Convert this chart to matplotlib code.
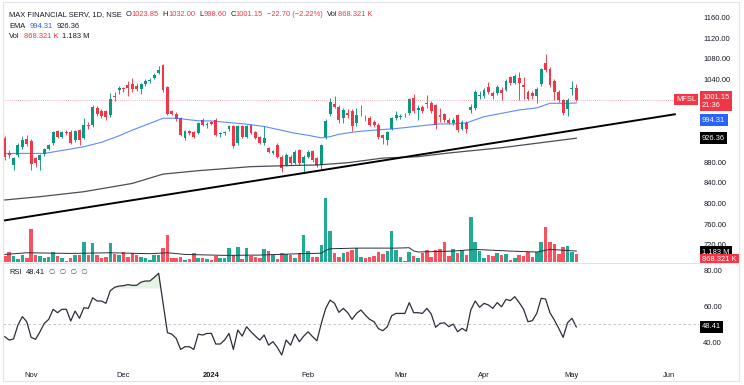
import matplotlib
matplotlib.use('Agg')
import matplotlib.pyplot as plt
from matplotlib.patches import Rectangle
from matplotlib.lines import Line2D
import numpy as np

plt.rcParams['font.family'] = ['Liberation Sans', 'DejaVu Sans']

# MFSL daily bars, 23 Oct 2023 .. 3 May 2024 (bar index 0..130)
opens = [927, 898, 875, 894, 910, 925, 921, 888, 884, 895,
         906, 917, 940, 929, 939, 939, 923, 942, 927, 952,
         951, 985, 979, 978, 971, 1008, 1020, 1023, 1030, 1032,
         1027, 1021, 1031, 1036, 1042, 1052, 1068, 1026, 978, 974,
         965, 927, 940, 938, 936, 962, 951, 957, 962, 934,
         936, 944, 949, 917, 949, 929, 951, 938, 929, 917,
         907, 898, 913, 891, 875, 891, 878, 903, 878, 891,
         902, 888, 875, 929, 974, 992, 987, 965, 975, 978,
         955, 978, 966, 966, 957, 952, 933, 923, 945, 965,
         968, 971, 975, 1005, 981, 987, 994, 994, 991, 971,
         973, 962, 955, 971, 945, 956, 981, 984, 1007, 1007,
         1025, 1014, 1013, 1020, 1020, 1044, 1034, 1042, 1029, 1016,
         1013, 1007, 1032, 1072, 1061, 1036, 1016, 1001, 982, 1021,
         1023.85]
highs = [930, 903, 890, 917, 930, 933, 925, 891, 896, 908,
         916, 941, 943, 941, 942, 942, 942, 945, 966, 958,
         990, 988, 983, 981, 1013, 1015, 1027, 1026, 1036, 1043,
         1034, 1034, 1040, 1043, 1052, 1065, 1069, 1028, 981, 977,
         968, 942, 943, 941, 958, 966, 958, 960, 965, 938,
         940, 951, 951, 952, 952, 952, 953, 940, 931, 949,
         910, 903, 918, 893, 897, 894, 903, 905, 893, 904,
         904, 890, 915, 963, 1005, 1007, 990, 985, 983, 982,
         985, 990, 972, 970, 962, 955, 935, 940, 968, 978,
         974, 975, 1005, 1012, 990, 990, 1010, 998, 993, 984,
         976, 965, 966, 974, 962, 960, 992, 1020, 1018, 1024,
         1035, 1018, 1030, 1025, 1040, 1047, 1050, 1055, 1045, 1020,
         1018, 1025, 1063, 1090, 1064, 1040, 1019, 1003, 1004, 1037,
         1032.00]
lows = [885, 888, 865, 890, 905, 912, 865, 871, 865, 892,
        903, 914, 926, 926, 933, 915, 919, 913, 924, 945,
        948, 970, 966, 961, 968, 998, 1012, 1016, 1007, 1016,
        1018, 1011, 1028, 1033, 1040, 1050, 1015, 971, 971, 960,
        930, 922, 932, 927, 934, 950, 947, 952, 930, 928,
        933, 941, 908, 914, 927, 927, 934, 925, 915, 914,
        897, 895, 888, 862, 872, 875, 876, 875, 859, 888,
        880, 870, 866, 925, 970, 985, 955, 955, 966, 940,
        950, 970, 960, 949, 948, 925, 916, 913, 942, 962,
        964, 968, 972, 975, 962, 975, 985, 975, 945, 958,
        958, 953, 952, 939, 943, 936, 975, 980, 1003, 1004,
        1012, 1002, 1010, 1000, 1018, 1030, 1031, 1000, 1003, 1000,
        1002, 995, 1028, 1055, 1026, 1000, 997, 972, 970, 1010,
        998.60]
closes = [891, 894, 888, 913, 923, 915, 876, 878, 893, 906,
          913, 938, 929, 938, 936, 917, 940, 923, 951, 949,
          987, 974, 970, 968, 1003, 1006, 1023, 1021, 1023, 1021,
          1021, 1031, 1037, 1039, 1049, 1058, 1020, 974, 974, 963,
          933, 940, 936, 929, 955, 952, 954, 954, 933, 936,
          939, 949, 912, 949, 929, 949, 936, 927, 918, 926,
          900, 901, 891, 868, 894, 878, 900, 878, 891, 900,
          884, 875, 913, 960, 997, 987, 962, 981, 971, 949,
          971, 979, 965, 952, 951, 929, 926, 938, 965, 971,
          969, 972, 1002, 978, 984, 979, 992, 979, 952, 968,
          962, 956, 962, 942, 958, 944, 987, 1016, 1010, 1020,
          1016, 1007, 1026, 1013, 1036, 1034, 1047, 1034, 1026, 1003,
          1007, 1021, 1061, 1058, 1029, 1016, 1000, 976, 1001, 1023.85,
          1001.15]
# volume in millions
volumes = [0.65, 1.1, 0.65, 0.3, 0.75, 0.4, 3.6, 0.75, 0.65, 0.4,
           0.55, 1.1, 0.65, 0.4, 0.15, 0.4, 0.75, 0.75, 2.2, 0.75,
           2.0, 0.75, 0.4, 0.57, 2.1, 0.82, 0.75, 1.1, 0.57, 0.93,
           0.75, 0.57, 0.4, 0.2, 0.75, 0.75, 1.47, 2.87, 0.47, 0.4,
           0.55, 0.22, 0.3, 0.93, 0.47, 0.47, 0.3, 0.2, 0.65, 0.4,
           0.4, 1.54, 0.75, 1.65, 0.3, 1.54, 0.65, 0.57, 0.4, 1.36,
           1.18, 0.75, 0.3, 1.0, 0.82, 0.75, 0.47, 1.0, 2.87, 1.18,
           0.57, 0.57, 1.8, 6.9, 3.3, 1.0, 0.55, 1.0, 1.08, 1.29,
           1.47, 0.57, 0.47, 0.57, 0.65, 1.08, 0.9, 1.18, 3.3, 1.25,
           0.57, 0.1, 1.1, 0.65, 0.47, 1.0, 1.29, 0.57, 1.29, 1.43,
           2.2, 0.65, 1.36, 1.0, 1.29, 0.72, 4.8, 2.2, 1.18, 0.47,
           0.72, 0.65, 1.0, 0.75, 0.82, 0.2, 0.47, 0.72, 0.65, 1.11,
           0.55, 1.11, 2.15, 3.8, 2.15, 1.97, 0.82, 1.65, 1.72, 1.11,
           0.868321]
rsi = [43.0, 41.1, 41.7, 49.5, 54.1, 51.3, 42.6, 41.5, 45.7, 50.4,
       52.6, 58.2, 56.3, 58.2, 58.2, 51.7, 57.2, 53.2, 59.1, 58.7,
       64.6, 62.8, 62.8, 61.5, 68.5, 70.4, 71.1, 71.3, 71.9, 71.5,
       71.5, 73.3, 73.9, 73.9, 75.9, 78.2, 61.5, 45.2, 44.4, 42.0,
       35.9, 37.4, 37.4, 35.9, 44.4, 43.9, 44.8, 44.8, 38.9, 38.9,
       41.1, 44.8, 35.9, 46.7, 43.3, 48.5, 45.7, 43.3, 41.1, 43.9,
       38.3, 40.2, 37.0, 32.8, 41.1, 38.3, 44.4, 40.2, 43.3, 45.7,
       43.0, 40.7, 50.4, 58.7, 63.3, 61.5, 56.5, 58.7, 56.3, 52.6,
       55.9, 57.8, 55.0, 52.6, 51.3, 47.4, 46.3, 48.5, 54.6, 55.9,
       55.9, 55.9, 61.9, 56.3, 56.3, 55.9, 58.7, 55.6, 48.2, 50.4,
       50.7, 48.5, 50.0, 45.7, 47.6, 46.1, 57.8, 62.8, 59.3, 61.5,
       60.6, 58.7, 61.9, 59.6, 63.7, 63.0, 65.2, 61.9, 58.2, 51.3,
       51.9, 55.9, 64.3, 63.9, 56.3, 52.2, 47.6, 42.6, 50.7, 53.2,
       48.41]

# indicator lines (bar index, value)
ema50_idx = [0, 9, 14, 18, 22, 26, 29, 33, 36, 39, 44, 47, 55, 59, 66, 69, 72,
             74, 76, 80, 84, 88, 91, 95, 99, 102, 105, 109, 113, 117, 121,
             124, 128, 130]
ema50_val = [897, 897, 904, 910, 918.5, 931, 942, 955, 965, 965, 960, 959.7,
             953.5, 949, 936, 932, 927, 929.4, 934, 939, 942, 944.3, 946.8,
             950.7, 954, 954, 956, 968, 974.4, 981, 985, 993.8, 993.8, 994.31]
ema200_idx = [0, 8, 18, 29, 36, 44, 56, 67, 71, 78, 86, 94, 101, 113, 130]
ema200_val = [807, 813.4, 823, 839, 857, 863.6, 871.4, 874, 874.6, 879, 888,
              890.7, 897.8, 908, 926.36]
volma_idx = [0, 5, 15, 24, 33, 37, 41, 50, 58, 67, 72, 73, 74, 80, 89, 92, 93,
             94, 102, 107, 115, 121, 124, 130]
volma_val = [0.82, 1.0, 0.93, 1.0, 0.9, 1.0, 0.82, 0.72, 0.75, 0.9, 0.95, 1.25,
             1.43, 1.5, 1.5, 1.54, 1.2, 1.08, 1.18, 1.36, 1.18, 1.08, 1.36, 1.183]

# user trend line anchors (bar index, price)
trend_idx = [-0.4, 152.4]
trend_price = [767, 972.6]

month_idx = [6, 27, 47, 69, 90, 109, 129, 151]
month_labels = ['Nov', 'Dec', '2024', 'Feb', 'Mar', 'Apr', 'May', 'Jun']
price_ticks = [720, 760, 800, 840, 880, 1040, 1080, 1120, 1160]
rsi_ticks = [40, 60, 80]
volma_last = 1.183

GREEN = '#089981'
RED = '#F23645'
VGREEN = '#22AB94'
VRED = '#F7525F'
BLUE = '#2962FF'
DARK = '#131722'
GRID = '#E0E3EB'

W, H = 744, 385
fig = plt.figure(figsize=(W / 100, H / 100), dpi=100)
fig.patch.set_facecolor('white')


def px_axes(left, top, right, bottom):
    return [left / W, 1 - bottom / H, (right - left) / W, (bottom - top) / H]


ax_vol = fig.add_axes(px_axes(3, 8, 699, 263))
ax = fig.add_axes(px_axes(3, 8, 699, 263), sharex=ax_vol)
ax_rsi = fig.add_axes(px_axes(3, 263, 699, 366), sharex=ax_vol)
ax_vol.set_zorder(0)
ax.set_zorder(1)
ax.patch.set_visible(False)
ax_rsi.set_zorder(3)

o = np.array(opens)
h = np.array(highs)
l = np.array(lows)
c = np.array(closes)
v = np.array(volumes)
x = np.arange(len(c))
up = c >= o
col = np.where(up, GREEN, RED)

# volume overlay
ax_vol.bar(x, v, width=0.8, color=np.where(up, VGREEN, VRED), linewidth=0)
ax_vol.plot(volma_idx, volma_val, color='#2a2e39', lw=0.7)
ax_vol.set_ylim(-0.1, 27.3)

# candles
ax.vlines(x, l, h, colors=col, lw=0.65)
ax.bar(x, np.maximum(np.abs(c - o), 0.9), bottom=np.minimum(o, c),
       width=0.66, color=col, linewidth=0)
ax.plot(ema50_idx, ema50_val, color=BLUE, lw=0.8, alpha=0.75)
ax.plot(ema200_idx, ema200_val, color='#2a2e39', lw=0.9, alpha=0.85)
ax.plot(trend_idx, trend_price, color='black', lw=1.4)
ax.axhline(c[-1], color=RED, lw=0.6, ls=(0, (1, 1.5)), alpha=0.5)
ax.set_ylim(685.2, 1178)
ax.set_xlim(-0.4, 157.9)

# RSI pane
r = np.array(rsi)
ax_rsi.plot(x, r, color='#2a2e39', lw=0.9)
ax_rsi.fill_between(x, r, 70, where=r >= 70, interpolate=True,
                    color='#4CAF50', alpha=0.15, linewidth=0)
ax_rsi.axhline(50, color='#9598A1', lw=0.6, ls=(0, (3, 3)), alpha=0.7)
ax_rsi.set_ylim(26.7, 83.9)

for a in (ax_vol, ax, ax_rsi):
    for s in a.spines.values():
        s.set_visible(False)
    a.tick_params(length=0, labelsize=5.4, labelcolor=DARK)

ax_vol.tick_params(left=False, right=False, labelleft=False, labelright=False,
                   bottom=False, labelbottom=False)
ax.yaxis.tick_right()
ax.set_yticks(price_ticks)
ax.set_yticklabels([f'{p:.2f}' for p in price_ticks])
ax.tick_params(axis='y', pad=3)
ax.tick_params(axis='x', labelbottom=False)

ax_rsi.yaxis.tick_right()
ax_rsi.set_yticks(rsi_ticks)
ax_rsi.set_yticklabels([f'{p:.2f}' for p in rsi_ticks])
ax_rsi.tick_params(axis='y', pad=3)
ax_rsi.set_xticks(month_idx)
ax_rsi.set_xticklabels(month_labels)
ax_rsi.tick_params(axis='x', pad=4)
for t in ax_rsi.get_xticklabels():
    if t.get_text() == '2024':
        t.set_fontweight('bold')


def tag(axis, yval, label, fc, ytrans, dy=0, dx=3, ha='left', va='center'):
    axis.annotate(label, xy=(1, yval), xycoords=('axes fraction', ytrans),
                  xytext=(dx, dy), textcoords='offset pixels', ha=ha, va=va,
                  color='white', fontsize=5.4, annotation_clip=False,
                  bbox=dict(boxstyle='square,pad=0.3', fc=fc, ec='none'))


ema_now = ema50_val[-1]
tag(ax, c[-1], f'{c[-1]:.2f}\n21:36', RED, ax.transData, dy=6, va='top')
tag(ax, c[-1], 'MFSL', RED, ax.transData, dx=-3, ha='right')
tag(ax, ema_now, f'{ema_now:.2f}', BLUE, ax.transData, dy=-17)
tag(ax, ema200_val[-1], f'{ema200_val[-1]:.2f}', 'black', ax.transData)
tag(ax, volma_last, f'{volma_last:.3f} M', 'black', ax_vol.transData, dy=-1)
tag(ax, v[-1], f'{v[-1] * 1000:.3f} K', RED, ax_vol.transData, dy=-6)
tag(ax_rsi, r[-1], f'{r[-1]:.2f}', 'black', ax_rsi.transData)

# hide tag overflow below the price pane
fig.add_artist(Rectangle((699 / W, 0), 45 / W, 1 - 263.5 / H,
                         transform=fig.transFigure, fc='white', ec='none',
                         zorder=2))
fig.add_artist(Line2D([3 / W, 739 / W], [1 - 263 / H] * 2, color=GRID, lw=0.8,
                      zorder=4))
fig.add_artist(Rectangle((3 / W, 1 - 381 / H), 736 / W, 379 / H,
                         transform=fig.transFigure, fill=False, ec=GRID,
                         lw=0.8, zorder=4))

# legend lines
renderer = fig.canvas.get_renderer()


def put_pieces(px, py, pieces, size=5.4):
    for txt, color, gap in pieces:
        t = fig.text(px / W, 1 - py / H, txt, color=color, fontsize=size,
                     ha='left', va='center', zorder=5)
        px += t.get_window_extent(renderer).width + gap


chg = c[-1] - c[-2]
pct = chg / c[-2] * 100
put_pieces(9, 15, [
    ('MAX FINANCIAL SERV, 1D, NSE', DARK, 4),
    ('O', DARK, 0), (f'{o[-1]:.2f}', RED, 4),
    ('H', DARK, 0), (f'{h[-1]:.2f}', RED, 4),
    ('L', DARK, 0), (f'{l[-1]:.2f}', RED, 4),
    ('C', DARK, 0), (f'{c[-1]:.2f}', RED, 4),
    (f'\u2212{abs(chg):.2f} (\u2212{abs(pct):.2f}%)', RED, 4),
    ('Vol', DARK, 0), (f'{v[-1] * 1000:.3f} K', RED, 0),
])
put_pieces(9, 26, [('EMA', DARK, 4), (f'{ema_now:.2f}', BLUE, 4),
                   (f'{ema200_val[-1]:.2f}', DARK, 0)])
put_pieces(9, 37, [('Vol', DARK, 4), (f'{v[-1] * 1000:.3f} K', RED, 4),
                   (f'{volma_last:.3f} M', DARK, 0)])
put_pieces(9, 273, [('RSI', DARK, 4), (f'{r[-1]:.2f}', DARK, 4),
                    ('\u2205  \u2205  \u2205  \u2205', '#50535E', 0)])

fig.savefig('out.png', dpi=100, facecolor='white')
